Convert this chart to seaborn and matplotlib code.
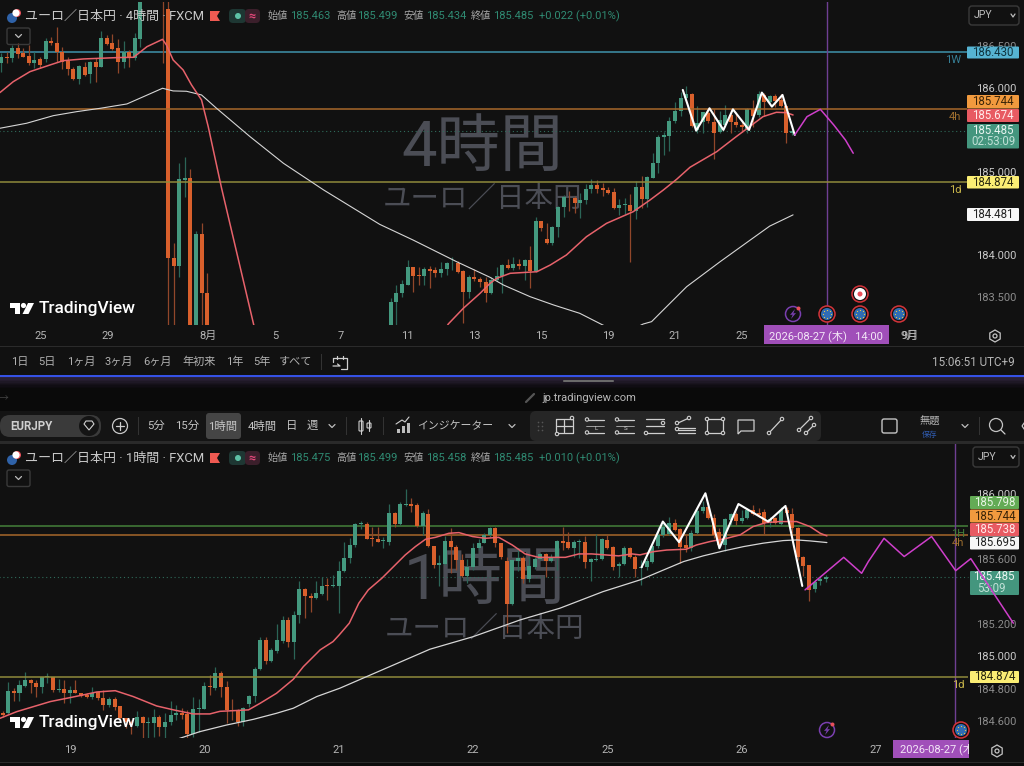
import numpy as np
import pandas as pd
import seaborn as sns
import matplotlib.pyplot as plt
from matplotlib.patches import Rectangle, Circle, Polygon, FancyBboxPatch

# 上段チャート (4時間足) のデータ
top_bars = [*range(26), *range(29, 38), *range(70, 143)]
top_open = [186.296, 186.368, 186.356, 186.475, 186.416, 186.384, 186.296, 186.344, 186.344, 186.567,
            186.535, 186.436, 186.328, 186.228, 186.104, 186.252, 186.168, 186.308, 186.256, 186.603,
            186.535, 186.475, 186.316, 186.436, 186.356, 186.583,
            187.2, 186.942, 183.96, 183.87, 184.897, 184.92, 183.0, 184.247, 183.55,
            183.1, 183.441, 183.541, 183.641, 183.852, 183.760, 183.749, 183.836, 183.820, 183.788,
            183.828, 183.900, 183.900, 183.812, 183.561, 183.741, 183.709, 183.677, 183.541, 183.701,
            183.749, 183.880, 183.844, 183.892, 183.868, 183.940, 183.804, 184.407, 184.191, 184.140,
            184.339, 184.571, 184.699, 184.679, 184.619, 184.659, 184.794, 184.842, 184.798, 184.778,
            184.751, 184.563, 184.599, 184.599, 184.531, 184.818, 184.667, 184.927, 185.106, 185.414,
            185.430, 185.605, 185.725, 185.877, 185.929, 185.50, 185.597, 185.705, 185.598, 185.470,
            185.557, 185.677, 185.597, 185.557, 185.497, 185.745, 185.677, 185.916, 185.836, 185.904,
            185.857, 185.785, 185.463]
top_close = [186.368, 186.360, 186.483, 186.408, 186.376, 186.296, 186.336, 186.276, 186.567, 186.535,
             186.436, 186.316, 186.228, 186.108, 186.264, 186.156, 186.308, 186.256, 186.603, 186.527,
             186.468, 186.316, 186.436, 186.356, 186.595, 187.034,
             187.03, 183.96, 183.87, 184.905, 184.921, 183.0, 184.247, 183.54, 182.9,
             183.441, 183.541, 183.653, 183.852, 183.752, 183.752, 183.836, 183.812, 183.788, 183.828,
             183.900, 183.908, 183.800, 183.561, 183.741, 183.709, 183.677, 183.549, 183.701, 183.749,
             183.880, 183.844, 183.892, 183.868, 183.940, 183.804, 184.407, 184.319, 184.140, 184.339,
             184.571, 184.691, 184.691, 184.619, 184.659, 184.794, 184.842, 184.794, 184.778, 184.739,
             184.559, 184.599, 184.611, 184.523, 184.818, 184.667, 184.930, 185.106, 185.418, 185.438,
             185.605, 185.725, 185.877, 185.928, 185.546, 185.58, 185.709, 185.610, 185.458, 185.62,
             185.677, 185.597, 185.557, 185.529, 185.745, 185.665, 185.928, 185.836, 185.904, 185.849,
             185.785, 185.466, 185.485]
top_high = [186.416, 186.436, 186.515, 186.535, 186.475, 186.515, 186.436, 186.368, 186.595, 186.615,
            186.735, 186.495, 186.376, 186.256, 186.276, 186.316, 186.328, 186.356, 186.683, 186.635,
            186.643, 186.583, 186.567, 186.456, 186.663, 187.2,
            187.3, 187.1, 184.14, 185.10, 185.17, 185.03, 184.29, 184.38, 183.78,
            183.481, 183.641, 183.701, 183.940, 183.860, 183.852, 183.852, 183.868, 183.860, 183.920,
            183.920, 183.972, 183.932, 183.820, 183.761, 183.828, 183.733, 183.741, 183.733, 183.852,
            183.892, 183.948, 183.972, 183.948, 183.948, 184.108, 184.451, 184.411, 184.379, 184.347,
            184.587, 184.719, 184.771, 184.707, 184.739, 184.850, 184.906, 184.898, 184.866, 184.818,
            184.798, 184.667, 184.679, 184.731, 184.890, 184.946, 184.946, 185.218, 185.438, 185.478,
            185.657, 185.837, 185.956, 186.024, 185.937, 185.785, 185.717, 185.737, 185.745, 185.72,
            185.797, 185.745, 185.717, 185.597, 185.757, 185.857, 185.968, 185.936, 185.916, 185.924,
            185.928, 185.797, 185.499]
top_low = [186.196, 186.296, 186.316, 186.356, 186.368, 186.276, 186.236, 186.236, 186.316, 186.515,
           186.316, 186.228, 186.156, 186.096, 186.044, 186.144, 186.056, 186.076, 186.248, 186.515,
           186.456, 186.184, 186.236, 186.256, 186.336, 186.495,
           186.296, 182.9, 182.9, 183.74, 184.70, 182.9, 182.9, 182.9, 182.8,
           183.0, 183.0, 183.493, 183.641, 183.561, 183.641, 183.641, 183.601, 183.733, 183.733,
           183.761, 183.820, 183.780, 183.18, 183.481, 183.693, 183.621, 183.441, 183.533, 183.693,
           183.549, 183.836, 183.820, 183.828, 183.701, 183.601, 183.796, 184.283, 184.132, 184.120,
           184.211, 184.459, 184.531, 184.507, 184.443, 184.611, 184.739, 184.747, 184.707, 184.731,
           184.547, 184.479, 184.491, 183.921, 184.435, 184.559, 184.579, 184.919, 184.979, 185.198,
           185.250, 185.585, 185.665, 185.857, 185.538, 185.458, 185.458, 185.586, 185.15, 185.458,
           185.537, 185.466, 185.537, 185.478, 185.458, 185.537, 185.657, 185.665, 185.817, 185.777,
           185.769, 185.346, 185.434]

top_red_x = [-0.2, 2.2, 5.2, 8.8, 11.2, 14.8, 17.8, 20.8, 23.8, 26.2, 29, 29.7, 30.9, 32.7, 34.2, 36, 37.2,
             39.6, 45.6, 60, 78, 80.3, 83, 86, 87.8, 89, 91.4, 96.2, 98.6, 101.5, 105.1, 108.7, 113.5, 116.5,
             118.9, 121.3, 123.7, 128.5, 132, 134.4, 136.8, 139.2, 141, 142.2]
top_red_y = [185.945, 186.076, 186.196, 186.276, 186.328, 186.348, 186.356, 186.364, 186.368, 186.495, 186.583,
             186.515, 186.336, 186.216, 186.037, 185.857, 185.538, 184.800, 183.1, 181.5, 182.9, 183.174, 183.362,
             183.541, 183.661, 183.721, 183.781, 183.800, 183.880, 184.000, 184.219, 184.379, 184.519, 184.658,
             184.778, 184.907, 185.051, 185.238, 185.418, 185.537, 185.657, 185.709, 185.705, 185.677]
top_white_x = [-0.2, 4.6, 9.4, 13.6, 17.8, 22.6, 25.6, 29, 30.9, 33.3, 36, 38.7, 44.7, 50.7, 57.9, 68, 74, 81.8,
               87.8, 90.2, 95, 99.2, 103.9, 107.8, 111.5, 115.3, 116.8, 118.9, 123.1, 129.1, 134.5, 138, 142.2]
top_white_y = [185.518, 185.578, 185.669, 185.717, 185.757, 185.809, 185.897, 185.997, 185.965, 185.961, 185.917,
               185.757, 185.418, 185.099, 184.780, 184.367, 184.179, 183.920, 183.733, 183.641, 183.501, 183.402,
               183.302, 183.170, 183.05, 183.174, 183.202, 183.342, 183.621, 183.920, 184.179, 184.346, 184.481]
top_zigzag_x = [122.4, 124.8, 127.2, 129.7, 131.4, 134.3, 136.6, 138.4, 140.3, 142.5]
top_zigzag_y = [185.977, 185.490, 185.757, 185.498, 185.745, 185.498, 185.945, 185.777, 185.917, 185.438]
top_plan_x = [142.5, 144.7, 147.1, 149.5, 151.6, 153]
top_plan_y = [185.438, 185.657, 185.745, 185.558, 185.378, 185.219]
top_cursor = 148.3
top_date_pos = [7.2, 19.2, 37.2, 49.2, 61, 73, 85, 97, 109, 121, 133, 163]
top_date_labels = ['25', '29', '8月', '5', '7', '11', '13', '15', '19', '21', '25', '9月']
top_price_ticks = [186.5, 186.0, 185.0, 184.0, 183.5]
top_bright_ticks = [186.0, 185.0, 184.0]

# 下段チャート (1時間足) のデータ
low_open = [184.649, 184.649, 184.788, 184.772, 184.819, 184.856, 184.834, 184.809, 184.870, 184.872,
            184.790, 184.797, 184.776, 184.792, 184.776, 184.762, 184.747, 184.780, 184.741, 184.700,
            184.737, 184.694, 184.618, 184.598, 184.571, 184.629, 184.592, 184.588, 184.629, 184.567,
            184.594, 184.641, 184.653, 184.645, 184.520, 184.678, 184.678, 184.817, 184.803, 184.899,
            184.813, 184.670, 184.665, 184.598, 184.706, 184.756, 184.920, 185.100, 184.973, 185.034,
            185.096, 185.223, 185.088, 185.254, 185.414, 185.371, 185.358, 185.383, 185.436, 185.430,
            185.432, 185.522, 185.602, 185.684, 185.813, 185.813, 185.727, 185.723, 185.709, 185.705,
            185.881, 185.813, 185.930, 185.936, 185.928, 185.801, 185.875, 185.678, 185.559, 185.567,
            185.711, 185.674, 185.592, 185.496, 185.547, 185.664, 185.699, 185.744, 185.787, 185.695,
            185.588, 185.321, 185.588, 185.602, 185.473, 185.547, 185.598, 185.629, 185.588, 185.608,
            185.711, 185.703, 185.666, 185.701, 185.705, 185.580, 185.592, 185.600, 185.715, 185.674,
            185.555, 185.567, 185.668, 185.608, 185.543, 185.547, 185.582, 185.678, 185.746, 185.752,
            185.822, 185.781, 185.682, 185.668, 185.756, 185.891, 185.916, 185.850, 185.762, 185.684,
            185.838, 185.873, 185.834, 185.848, 185.900, 185.879, 185.885, 185.822, 185.848, 185.813,
            185.900, 185.873, 185.787, 185.613, 185.559, 185.416, 185.463, 185.475]
low_close = [184.637, 184.788, 184.772, 184.823, 184.854, 184.834, 184.809, 184.870, 184.874, 184.792,
             184.797, 184.776, 184.792, 184.776, 184.756, 184.747, 184.776, 184.741, 184.700, 184.737,
             184.690, 184.618, 184.598, 184.577, 184.624, 184.588, 184.598, 184.629, 184.567, 184.596,
             184.641, 184.649, 184.639, 184.520, 184.678, 184.682, 184.817, 184.809, 184.899, 184.809,
             184.670, 184.665, 184.598, 184.684, 184.756, 184.924, 185.100, 184.973, 185.036, 185.100,
             185.223, 185.090, 185.254, 185.414, 185.371, 185.358, 185.387, 185.432, 185.430, 185.436,
             185.524, 185.602, 185.686, 185.813, 185.818, 185.723, 185.723, 185.705, 185.713, 185.881,
             185.813, 185.934, 185.936, 185.926, 185.801, 185.879, 185.678, 185.559, 185.571, 185.711,
             185.674, 185.592, 185.496, 185.551, 185.664, 185.699, 185.744, 185.787, 185.695, 185.608,
             185.321, 185.592, 185.604, 185.473, 185.555, 185.600, 185.629, 185.588, 185.613, 185.711,
             185.699, 185.666, 185.701, 185.705, 185.580, 185.600, 185.600, 185.719, 185.664, 185.551,
             185.567, 185.668, 185.608, 185.539, 185.549, 185.588, 185.678, 185.748, 185.797, 185.822,
             185.777, 185.674, 185.664, 185.756, 185.895, 185.916, 185.850, 185.746, 185.684, 185.842,
             185.873, 185.834, 185.852, 185.900, 185.875, 185.869, 185.822, 185.842, 185.822, 185.900,
             185.879, 185.787, 185.613, 185.555, 185.408, 185.457, 185.473, 185.485]
low_high = [184.665, 184.844, 184.803, 184.854, 184.905, 184.858, 184.854, 184.874, 184.895, 184.874,
            184.860, 184.854, 184.817, 184.854, 184.776, 184.772, 184.813, 184.788, 184.792, 184.752,
            184.747, 184.694, 184.618, 184.608, 184.665, 184.633, 184.624, 184.674, 184.641, 184.649,
            184.727, 184.700, 184.680, 184.670, 184.747, 184.739, 184.844, 184.885, 184.936, 184.911,
            184.850, 184.735, 184.674, 184.690, 184.762, 184.936, 185.116, 185.120, 185.049, 185.198,
            185.248, 185.244, 185.280, 185.465, 185.418, 185.391, 185.465, 185.485, 185.479, 185.500,
            185.586, 185.701, 185.725, 185.822, 185.834, 185.828, 185.797, 185.797, 185.736, 185.936,
            185.889, 185.951, 186.027, 185.971, 185.940, 185.895, 185.904, 185.678, 185.623, 185.740,
            185.787, 185.684, 185.629, 185.596, 185.699, 185.719, 185.756, 185.797, 185.793, 185.699,
            185.608, 185.596, 185.664, 185.617, 185.613, 185.608, 185.637, 185.637, 185.629, 185.715,
            185.797, 185.766, 185.715, 185.719, 185.740, 185.602, 185.752, 185.727, 185.746, 185.678,
            185.582, 185.678, 185.674, 185.623, 185.592, 185.602, 185.695, 185.797, 185.828, 185.854,
            185.842, 185.787, 185.746, 185.777, 185.910, 185.957, 185.951, 185.875, 185.787, 185.848,
            185.883, 185.889, 185.900, 185.910, 185.930, 185.910, 185.904, 185.859, 185.859, 185.920,
            185.920, 185.910, 185.797, 185.617, 185.561, 185.469, 185.489, 185.499]
low_low = [184.624, 184.643, 184.727, 184.725, 184.813, 184.776, 184.747, 184.772, 184.838, 184.782,
           184.778, 184.715, 184.711, 184.772, 184.747, 184.741, 184.739, 184.731, 184.670, 184.686,
           184.670, 184.612, 184.557, 184.522, 184.567, 184.485, 184.489, 184.501, 184.510, 184.489,
           184.577, 184.608, 184.612, 184.489, 184.506, 184.536, 184.674, 184.762, 184.792, 184.752,
           184.592, 184.608, 184.571, 184.571, 184.690, 184.721, 184.916, 184.952, 184.965, 185.022,
           185.084, 185.055, 184.985, 185.203, 185.233, 185.274, 185.354, 185.377, 185.346, 185.424,
           185.264, 185.520, 185.576, 185.674, 185.781, 185.719, 185.678, 185.703, 185.668, 185.684,
           185.797, 185.807, 185.924, 185.889, 185.797, 185.746, 185.674, 185.541, 185.432, 185.559,
           185.510, 185.530, 185.490, 185.449, 185.530, 185.653, 185.695, 185.736, 185.674, 185.596,
           185.145, 185.315, 185.526, 185.453, 185.459, 185.535, 185.592, 185.490, 185.582, 185.530,
           185.653, 185.658, 185.613, 185.604, 185.541, 185.461, 185.588, 185.592, 185.658, 185.530,
           185.485, 185.561, 185.602, 185.490, 185.438, 185.530, 185.571, 185.664, 185.736, 185.746,
           185.772, 185.576, 185.643, 185.649, 185.752, 185.879, 185.842, 185.725, 185.664, 185.649,
           185.807, 185.807, 185.822, 185.842, 185.867, 185.859, 185.752, 185.797, 185.813, 185.807,
           185.869, 185.760, 185.592, 185.494, 185.342, 185.397, 185.438, 185.458]

low_red_x = [-0.5, 2.5, 5.5, 8.5, 11.4, 14.4, 16.8, 20.1, 23.3, 27.5, 30.5, 34, 37, 38.8, 41.2, 43.9, 46, 48.9, 51.9,
             53.7, 56.7, 59, 60.1, 61.9, 63.6, 65.3, 67.7, 69.8, 71.9, 73.7, 75.5, 77.3, 79.7, 81.5, 83.9, 86.2, 88.6,
             91, 93.3, 95.7, 98.1, 100.5, 102.9, 105.2, 107.6, 110, 112.4, 113.8, 116.2, 118.6, 122.1, 123.9, 126.3,
             129.3, 131.7, 134, 136.4, 138.8, 141.8, 144.2, 146, 147.2]
low_red_y = [184.618, 184.659, 184.690, 184.721, 184.741, 184.762, 184.780, 184.788, 184.752, 184.694, 184.670, 184.645,
             184.645, 184.661, 184.665, 184.670, 184.711, 184.772, 184.858, 184.936, 185.039, 185.090, 185.131, 185.203,
             185.326, 185.408, 185.479, 185.551, 185.623, 185.674, 185.719, 185.731, 185.756, 185.760, 185.736, 185.725,
             185.731, 185.684, 185.629, 185.608, 185.608, 185.608, 185.629, 185.629, 185.623, 185.617, 185.629, 185.623,
             185.643, 185.653, 185.658, 185.684, 185.705, 185.725, 185.746, 185.797, 185.822, 185.828, 185.828, 185.797,
             185.756, 185.740]
low_white_x = [31.1, 35.2, 40, 44.8, 48.9, 51.9, 56.1, 60.2, 76.3, 84, 92.4, 99.5, 107.2, 113.8, 118, 121.6, 125.1,
               128.7, 132.3, 135.8, 139.4, 141.8, 144.2, 147.2]
low_white_y = [184.489, 184.536, 184.577, 184.612, 184.649, 184.680, 184.752, 184.803, 185.043, 185.120, 185.223,
               185.295, 185.397, 185.469, 185.530, 185.582, 185.617, 185.647, 185.674, 185.695, 185.711, 185.715,
               185.709, 185.699]
low_zigzag_x = [114.1, 117.9, 120.8, 125.5, 128, 131.4, 136.7, 139.8, 142.8]
low_zigzag_y = [185.547, 185.828, 185.701, 186.002, 185.664, 185.936, 185.828, 185.924, 185.432]
low_plan_x = [143.3, 150.2, 153.4, 154.6, 157.4, 161, 165.9, 170.2, 172.9, 180.5]
low_plan_y = [185.408, 185.608, 185.510, 185.582, 185.725, 185.613, 185.736, 185.526, 185.600, 185.203]
low_cursor = 170
low_date_pos = [12, 36, 60, 84, 108, 132, 156]
low_date_labels = ['19', '20', '21', '22', '25', '26', '27']
low_price_ticks = [186.0, 185.6, 185.2, 185.0, 184.8, 184.6]
low_bright_ticks = [186.0, 185.0]

# 色
BG = '#111111'
UP = '#44997f'
DOWN = '#d9602c'
UP_WICK = '#2b6557'
DOWN_WICK = '#91472a'
RED_MA = '#e7626b'
WHITE_MA = '#d6d6d6'
PLAN = '#cf3fcb'
CURSOR = '#6f3f93'
LINE_1W = '#3f93ac'
LINE_1H = '#44803a'
LINE_4H = '#a8682a'
LINE_1D = '#8f8a3b'
WATERMARK = '#4b4d55'
GREY = '#b5b5b5'

sns.set_theme(style='dark', rc={'axes.facecolor': BG, 'figure.facecolor': BG})
plt.rcParams['font.family'] = ['Roboto', 'Noto Sans CJK JP', 'DejaVu Sans']

fig = plt.figure(figsize=(10.24, 7.66), dpi=100, facecolor=BG)


def px_axes(left, top, right, bottom, z):
    ax = fig.add_axes([left / 1024, 1 - bottom / 766, (right - left) / 1024, (bottom - top) / 766], zorder=z)
    ax.patch.set_visible(False)
    return ax


# ピクセル座標の層 (背景と UI 部品)
ax_bg = px_axes(0, 0, 1024, 766, 0)
ax_ui = px_axes(0, 0, 1024, 766, 3)
for a in (ax_bg, ax_ui):
    a.set_xlim(0, 1024)
    a.set_ylim(766, 0)
    a.axis('off')

ax_top = px_axes(0, 2, 1024, 325, 1)
ax_low = px_axes(0, 444, 1024, 738, 2)
ax_top.set_xlim(-0.18, 183.66)
ax_top.set_ylim(183.162, 187.03)
ax_low.set_xlim(-0.48, 182.4)
ax_low.set_ylim(184.497, 186.305)


def draw_chart(ax, bars, opens, highs, lows, closes):
    df = pd.DataFrame({'bar': bars, 'open': opens, 'high': highs, 'low': lows, 'close': closes})
    df['up'] = df['close'] >= df['open']
    ax.vlines(df['bar'], df['low'], df['high'], colors=np.where(df['up'], UP_WICK, DOWN_WICK), lw=0.9, zorder=2)
    ax.bar(df['bar'], (df['close'] - df['open']).abs().clip(lower=0.006), bottom=df[['open', 'close']].min(axis=1),
           width=0.72, color=np.where(df['up'], UP, DOWN), lw=0, zorder=3)


def draw_line(ax, xs, ys, color, lw, z):
    sns.lineplot(x=xs, y=ys, ax=ax, color=color, lw=lw, estimator=None, sort=False, zorder=z,
                 solid_joinstyle='round')


def style_axis(ax, date_pos, date_labels, price_ticks, bright, date_pad):
    ax.set_xlabel('')
    ax.set_ylabel('')
    ax.grid(False)
    for s in ax.spines.values():
        s.set_visible(False)
    ax.set_xticks(date_pos, date_labels)
    ax.tick_params(axis='x', length=0, pad=date_pad, labelsize=8, labelcolor=GREY)
    ax.yaxis.tick_right()
    ax.set_yticks(price_ticks, [f'{p:.3f}' for p in price_ticks])
    ax.tick_params(axis='y', length=0, pad=-34.5, labelsize=8, labelcolor='#8b8b8b')
    for p, lab in zip(price_ticks, ax.get_yticklabels()):
        if p in bright:
            lab.set_color('#c9c9c9')


def px_text(ax, x, y, s, size=8, color=GREY, ha='center', z=7, **kw):
    return ax.text(x, y, s, fontsize=size, color=color, ha=ha, va='center', zorder=z,
                   transform=ax_ui.transData, clip_on=False, **kw)


def price_tag(ax, top, bottom, left, right, fc, label, tc, sub=None):
    ax.add_patch(FancyBboxPatch((left + 1, top + 1), right - left - 2, bottom - top - 2, boxstyle='round,pad=1',
                                fc=fc, ec='none', transform=ax_ui.transData, clip_on=False, zorder=6))
    if sub:
        px_text(ax, (left + right) / 2, top + 6.5, label, size=8.3, color=tc)
        px_text(ax, (left + right) / 2, bottom - 7, sub, size=8.3, color='#bfe0d6')
    else:
        px_text(ax, (left + right) / 2, (top + bottom) / 2, label, size=8.3, color=tc)


# ---- 上段 ----
ax_top.text(0.4708, 0.545, '4時間', transform=ax_top.transAxes, fontsize=45.5, color=WATERMARK, ha='center', va='center',
            zorder=1)
ax_top.text(0.4708, 0.39, 'ユーロ／日本円', transform=ax_top.transAxes, fontsize=20.5, color=WATERMARK, ha='center',
            va='center', zorder=1)
ax_top.hlines([186.430], -1, 173.5, color=LINE_1W, lw=1.1, zorder=1.5)
ax_top.hlines([185.744], -1, 173.5, color=LINE_4H, lw=1.1, zorder=4)
ax_top.hlines([184.874], -1, 173.5, color=LINE_1D, lw=1.1, zorder=4)
ax_top.hlines([185.485], -1, 173.5, color='#2f6b5a', lw=0.8, linestyles=(0, (1, 2.5)), zorder=1.5)
ax_top.vlines([top_cursor], 183.0, 187.1, color=CURSOR, lw=1, zorder=1.6)
draw_chart(ax_top, top_bars, top_open, top_high, top_low, top_close)
draw_line(ax_top, top_white_x, top_white_y, WHITE_MA, 0.8, 4)
draw_line(ax_top, top_red_x, top_red_y, RED_MA, 1.1, 4.2)
draw_line(ax_top, top_zigzag_x, top_zigzag_y, 'white', 1.5, 5)
draw_line(ax_top, top_plan_x, top_plan_y, PLAN, 1.1, 5)
style_axis(ax_top, top_date_pos, top_date_labels, top_price_ticks, top_bright_ticks, 4.5)

price_tag(ax_top, 46.5, 58.5, 967, 1019, '#56b4d3', '186.430', '#10343f')
price_tag(ax_top, 95, 108.5, 967, 1019, '#f19a3e', '185.744', '#3a2408')
price_tag(ax_top, 109, 122, 967, 1019, '#e85a62', '185.674', '#ffe9e9')
price_tag(ax_top, 124, 148.5, 967, 1019, '#44967e', '185.485', '#e9f5f1', sub='02:53:09')
price_tag(ax_top, 176, 188.5, 967, 1019, '#fbee74', '184.874', '#2b2a10')
price_tag(ax_top, 208, 221, 967, 1019, '#f7f7f7', '184.481', '#222222')
px_text(ax_top, 953, 60, '1W', color='#367f96')
px_text(ax_top, 955, 117, '4h', color='#a0702f')
px_text(ax_top, 955, 190, '1d', color='#c9b64a')

# ---- 下段 ----
ax_low.text(0.4736, 0.531, '1時間', transform=ax_low.transAxes, fontsize=45.5, color=WATERMARK, ha='center', va='center',
            zorder=1)
ax_low.text(0.4736, 0.371, 'ユーロ／日本円', transform=ax_low.transAxes, fontsize=20.5, color=WATERMARK, ha='center',
            va='center', zorder=1)
ax_low.hlines([185.798], -1, 172.4, color=LINE_1H, lw=1.1, zorder=1.5)
ax_low.hlines([185.744], -1, 172.4, color=LINE_4H, lw=1.1, zorder=1.5)
ax_low.hlines([184.874], -1, 172.4, color=LINE_1D, lw=1.1, zorder=4)
ax_low.hlines([185.485], -1, 172.4, color='#2f6b5a', lw=0.8, linestyles=(0, (1, 2.5)), zorder=1.5)
ax_low.vlines([low_cursor], 184.4, 186.4, color=CURSOR, lw=1, zorder=1.6)
draw_chart(ax_low, list(range(148)), low_open, low_high, low_low, low_close)
draw_line(ax_low, low_white_x, low_white_y, WHITE_MA, 0.9, 4)
draw_line(ax_low, low_red_x, low_red_y, RED_MA, 1.1, 4.2)
draw_line(ax_low, low_zigzag_x, low_zigzag_y, 'white', 1.5, 5)
draw_line(ax_low, low_plan_x, low_plan_y, PLAN, 1.1, 8)
style_axis(ax_low, low_date_pos, low_date_labels, low_price_ticks, low_bright_ticks, 5)

price_tag(ax_low, 496, 509, 970, 1019, '#63ab55', '185.798', '#e8f5e4')
price_tag(ax_low, 509.5, 522.5, 970, 1019, '#f19a3e', '185.744', '#3a2408')
price_tag(ax_low, 523, 536, 970, 1019, '#e85a62', '185.738', '#ffe9e9')
price_tag(ax_low, 536.5, 549.5, 970, 1019, '#f7f7f7', '185.695', '#222222')
ax_low.add_patch(FancyBboxPatch((971, 572), 47, 22, boxstyle='round,pad=1', fc='#44967e', ec='none',
                                transform=ax_ui.transData, clip_on=False, zorder=6))
px_text(ax_low, 994, 577, '185.485', size=8.3, color='#e9f5f1')
px_text(ax_low, 977, 589, '53:09', size=8.3, color='#bfe0d6', ha='left')
price_tag(ax_low, 671, 683, 970, 1019, '#fbee74', '184.874', '#2b2a10')
px_text(ax_low, 958, 534, '1H', color='#44803a')
px_text(ax_low, 958, 543, '4h', color='#a0702f')
px_text(ax_low, 958, 685, '1d', color='#c9b64a')


# ---- UI 部品 ----
def rect(ax, x0, y0, x1, y1, fc, z=1, **kw):
    ax.add_patch(Rectangle((x0, y0), x1 - x0, y1 - y0, fc=fc, ec='none', zorder=z, **kw))


def rbox(ax, x0, y0, x1, y1, fc='none', ec='none', r=3, lw=1, z=2, tr=None):
    ax.add_patch(FancyBboxPatch((x0 + r, y0 + r), x1 - x0 - 2 * r, y1 - y0 - 2 * r, boxstyle=f'round,pad={r}',
                                fc=fc, ec=ec, lw=lw, zorder=z, mutation_aspect=1,
                                transform=(tr or ax.transData), clip_on=False))


def seg(pts, color='#cfcfcf', lw=0.9, z=6):
    ax_ui.plot([p[0] for p in pts], [p[1] for p in pts], color=color, lw=lw, zorder=z, solid_capstyle='round')


def node(x, y, r=1.7, color='#cfcfcf', fc='#2a2a2a'):
    ax_ui.add_patch(Circle((x, y), r, fc=fc, ec=color, lw=0.8, zorder=7))


def chevron(x, y, color='#bdbdbd', s=3):
    seg([(x - s, y - 1.5), (x, y + 1.5), (x + s, y - 1.5)], color=color, lw=0.9)


def eu_flag(x, y):
    ax_ui.add_patch(Circle((x, y), 8, fc=BG, ec='#d4343a', lw=1.1, zorder=6))
    ax_ui.add_patch(Circle((x, y), 6, fc='#2f6cb4', ec='none', zorder=7))
    a = np.linspace(0, 2 * np.pi, 9)[:-1]
    ax_ui.scatter(x + 3.6 * np.cos(a), y + 3.6 * np.sin(a), s=0.8, color='#e7c94b', zorder=8, linewidths=0)


def lightning(x, y):
    ax_ui.add_patch(Circle((x, y), 7.5, fc='none', ec='#7a3fb0', lw=1.1, zorder=6))
    ax_ui.add_patch(Polygon([(x + 2, y - 5), (x - 3, y + 1), (x - 0.3, y + 0.6), (x - 2, y + 5), (x + 3, y - 1),
                             (x + 0.3, y - 0.6)], fc='#7a3fb0', ec='none', zorder=7))
    ax_ui.add_patch(Circle((x + 5.5, y - 5.5), 2, fc='#e8505a', ec='none', zorder=8))


def gear(x, y):
    a = np.pi / 6 + np.arange(6) * np.pi / 3
    ax_ui.add_patch(Polygon(np.c_[x + 6 * np.cos(a), y + 6 * np.sin(a)], fc='none', ec='#c4c4c4', lw=0.9, zorder=6))
    ax_ui.add_patch(Circle((x, y), 2, fc='none', ec='#c4c4c4', lw=0.9, zorder=6))


def tv_logo(ax, x, y):
    t = ax_ui.transData
    ax.add_patch(Polygon([(x, y), (x + 10, y), (x + 10, y + 11), (x + 5, y + 11), (x + 5, y + 5), (x, y + 5)],
                         fc='white', ec='none', transform=t, zorder=7, clip_on=False))
    ax.add_patch(Circle((x + 13.5, y + 2.5), 2.6, fc='white', ec='none', transform=t, zorder=7, clip_on=False))
    ax.add_patch(Polygon([(x + 18, y), (x + 24, y), (x + 18.5, y + 11), (x + 12.5, y + 11)], fc='white', ec='none',
                         transform=t, zorder=7, clip_on=False))
    px_text(ax, x + 29, y + 5.5, 'TradingView', size=12.4, color='white', ha='left', weight='medium')


def header(y, tf, o, h, l, c, chg):
    px_text(ax_ui, 25, y, f'ユーロ／日本円 · {tf} · FXCM', size=9.4, color='#c8c8c8', ha='left')
    ax_ui.add_patch(Circle((12, y + 2), 5, fc='#2f62a8', ec='none', zorder=6))
    ax_ui.add_patch(Circle((17, y - 3), 4, fc='#e8505a', ec='none', zorder=6))
    ax_ui.add_patch(Circle((16, y - 3), 3.6, fc='white', ec='none', zorder=6))
    ax_ui.add_patch(Polygon([(210, y - 5), (220, y - 5), (217, y), (220, y + 5), (210, y + 5)], fc='#ef5a52', ec='none', zorder=6))
    rbox(ax_ui, 229, y - 7, 246, y + 7, fc='#1e3733', r=4, z=5)
    rbox(ax_ui, 245, y - 7, 260, y + 7, fc='#3b1f2b', r=4, z=5)
    ax_ui.add_patch(Circle((238, y), 3, fc='#5dc2a6', ec='none', zorder=6))
    px_text(ax_ui, 252, y, '≈', size=9, color='#e2487a', weight='bold')
    green = '#2f8a72'
    for x, lab in zip((268, 336, 403, 471), ('始値', '高値', '安値', '終値')):
        px_text(ax_ui, x, y, lab, size=7.3, color='#a6a6a6', ha='left')
    for x, val in zip((290, 357, 426, 493), (o, h, l, c)):
        px_text(ax_ui, x, y, val, size=8, color=green, ha='left')
    px_text(ax_ui, 539, y, chg, size=8, color=green, ha='left')


def jpy_box(x0, y0, x1, y1):
    rbox(ax_ui, x0, y0, x1, y1, ec='#3a3a3a', r=3, z=6)
    px_text(ax_ui, x0 + 5, (y0 + y1) / 2, 'JPY', size=7.6, color='#bdbdbd', ha='left')
    chevron(x1 - 6, (y0 + y1) / 2, s=2)


# 帯と区切り
rect(ax_bg, 0, 346, 1024, 347, '#2b2b2b')
rect(ax_bg, 0, 377, 1024, 411, '#0a0a0a')
rect(ax_ui, 0, 375.3, 1024, 377.2, '#3552e6', z=5)
for k, col in enumerate(['#2c2340', '#282035', '#241c2d', '#1e1825', '#19141e', '#141018', '#100d13', '#0d0b0f']):
    rect(ax_bg, 0, 377 + k * 1.4, 1024, 378.4 + k * 1.4, col, z=2)
rect(ax_bg, 0, 411, 1024, 441, '#141414')
rect(ax_bg, 0, 441, 1024, 444, '#2a2a2a')
rect(ax_bg, 0, 762, 1024, 763, '#2b2b2b')
rect(ax_bg, 0, 763, 1024, 766, '#0c0c0c')

header(16, '4時間', '185.463', '185.499', '185.434', '185.485', '+0.022 (+0.01%)')
header(458, '1時間', '185.475', '185.499', '185.458', '185.485', '+0.010 (+0.01%)')
for y0 in (28, 470):
    rbox(ax_ui, 7, y0, 30, y0 + 16.5, ec='#3a3a3a', r=2, z=6)
    chevron(18.5, y0 + 8)
jpy_box(969, 6, 1019, 25)
jpy_box(973, 447, 1019, 467)
tv_logo(ax_ui, 10, 303)
tv_logo(ax_low, 10, 717)

# カーソルの日付ラベルとイベント
rect(ax_ui, 764, 325, 889, 344, '#a04fb9', z=5)
px_text(ax_ui, 826, 336, '2026-08-27 (木)   14:00', size=8, color='#f3e6f7')
px_text(ax_ui, 910, 336, '9月', size=8)
date_box = Rectangle((893, 740), 76, 18, fc='#a04fb9', ec='none', zorder=5)
ax_ui.add_patch(date_box)
t = ax_ui.text(900, 749.5, '2026-08-27 (木)   14:00', fontsize=8, color='#f3e6f7', ha='left', va='center', zorder=6,
               clip_on=True)
t.set_clip_path(date_box)
lightning(793, 314)
for x in (827, 860, 899):
    eu_flag(x, 314)
ax_ui.add_patch(Circle((860, 294), 8, fc=BG, ec='#d4343a', lw=1.1, zorder=6))
ax_ui.add_patch(Circle((860, 294), 6, fc='white', ec='none', zorder=7))
ax_ui.add_patch(Circle((860, 294), 2.5, fc='#e8505a', ec='none', zorder=8))
lightning(827, 730)
eu_flag(961, 730)
gear(995, 336)
gear(997, 751)

# 期間バー
for x, lab in zip((20, 47, 81, 119, 158, 199, 235, 262, 296),
                  ('1日', '5日', '1ヶ月', '3ヶ月', '6ヶ月', '年初来', '1年', '5年', 'すべて')):
    px_text(ax_ui, x, 362, lab, size=8, color='#b0b0b0')
rect(ax_ui, 321, 354, 322, 370, '#333333', z=5)
seg([(333, 358), (347, 358), (347, 369), (341, 369)], lw=0.9)
seg([(333, 358), (333, 362)], lw=0.9)
seg([(333, 366), (340, 366), (337.5, 364)], lw=0.9)
seg([(337, 355.5), (337, 359)], lw=0.9)
seg([(343, 355.5), (343, 359)], lw=0.9)
px_text(ax_ui, 1015, 362, '15:06:51 UTC+9', size=8.4, color='#b5b5b5', ha='right')

# ブラウザの URL 部分
rbox(ax_ui, 563, 380, 614, 382, fc='#6a6a6a', r=1, z=5)
px_text(ax_ui, 542, 398, 'jp.tradingview.com', size=8, color='#b8b8b8', ha='left')
seg([(526, 402), (534, 394)], color='#555555', lw=1.6)
px_text(ax_ui, 3, 398, '→', size=7, color='#444444')

# ツールバー
rbox(ax_ui, 0, 415, 101, 437, fc='#3a3a3a', r=10, z=2)
px_text(ax_ui, 10, 426, 'EURJPY', size=8.3, color='#cfcfcf', ha='left', weight='bold')
ax_ui.add_patch(Circle((89, 426), 10, fc='#141414', ec='none', zorder=4))
ax_ui.add_patch(Polygon([(84, 424), (86, 421), (92, 421), (94, 424), (89, 430)], fc='none', ec='#d0d0d0', lw=0.8, zorder=5))
ax_ui.add_patch(Circle((120, 426), 7.5, fc='none', ec='#c8c8c8', lw=0.9, zorder=5))
seg([(116, 426), (124, 426)])
seg([(120, 422), (120, 430)])
for x in (138, 346, 383, 979):
    rect(ax_ui, x, 417, x + 1, 435, '#333333', z=5)
rbox(ax_ui, 206, 413, 241, 439, fc='#454545', r=3, z=2)
for x, lab in zip((156, 187, 223, 262, 292, 312), ('5分', '15分', '1時間', '4時間', '日', '週')):
    px_text(ax_ui, x, 426, lab, size=8.2, color='#c4c4c4')
chevron(332, 426)
# ローソク足アイコン
for x, y0, y1, b0, b1 in ((361, 418, 434, 421, 431), (369, 420, 431, 423, 428)):
    seg([(x, y0), (x, y1)], lw=0.8)
    rbox(ax_ui, x - 2, b0, x + 2, b1, ec='#cfcfcf', r=0.8, z=6, lw=0.8)
# インジケーターアイコン
for x, h in ((397, 4), (402, 7), (407, 10)):
    rect(ax_ui, x, 433 - h, x + 3, 433, '#bdbdbd', z=5)
seg([(396, 424), (402, 420), (405, 422), (409, 417)], lw=0.8)
px_text(ax_ui, 455, 426, 'インジケーター', size=7.8, color='#c4c4c4')
chevron(512, 426)

# 描画ツールの浮動パネル
rbox(ax_ui, 530, 411, 821, 441, fc='#262626', r=6, z=3)
ax_ui.scatter([538, 542] * 3, [422, 422, 426, 426, 430, 430], s=1.4, color='#555555', zorder=6, linewidths=0)
seg([(556, 419), (573, 419), (573, 433), (556, 433), (556, 419)])
seg([(564, 420), (564, 432)])
seg([(557, 426), (572, 426)])
for p in ((572, 418), (557, 434)):
    node(*p)
for x, mark in ((595, 'L'), (625, 'S')):
    seg([(x - 7, 419.5), (x + 9, 419.5)])
    seg([(x - 7, 432.5), (x + 9, 432.5)])
    seg([(x - 9, 426), (x + 9, 426)], lw=0.5)
    node(x - 8, 419.5)
    node(x - 8, 432.5)
    px_text(ax_ui, x + 1, 428, mark, size=4.5, color='#cfcfcf')
for y in (419, 426, 433):
    seg([(646, y), (664, y)])
node(663, 423)
node(646, 433)
for y in (427.5, 430, 433):
    seg([(678, y), (695, y)])
seg([(678, 423), (689, 418)])
node(677, 423)
node(689, 418)
node(677, 429)
seg([(707, 419), (723, 419), (723, 433), (707, 433), (707, 419)])
for p in ((707, 419), (723, 419), (707, 433), (723, 433)):
    node(*p)
ax_ui.add_patch(Polygon([(738, 420), (754, 420), (754, 431), (741, 431), (738, 434)], fc='none', ec='#cfcfcf', lw=0.9, zorder=6))
seg([(769, 433), (782, 419)])
node(769, 433)
node(782, 419)
seg([(799, 430), (811, 418)])
seg([(806, 433), (814, 425)])
for p in ((799, 430), (811, 418), (806, 433), (814, 425)):
    node(*p)

# 右上のボタン
rbox(ax_ui, 882, 419, 897, 433, ec='#c4c4c4', r=2, z=5)
px_text(ax_ui, 930, 422, '無題', size=7.4, color='#b5b5b5')
px_text(ax_ui, 930, 434, '保存', size=5.6, color='#2f5bb0')
chevron(965, 426)
ax_ui.add_patch(Circle((996, 425), 6.5, fc='none', ec='#c4c4c4', lw=0.9, zorder=5))
seg([(1001, 430), (1005, 434)])
ax_ui.add_patch(Polygon([(1022, 426), (1027, 419), (1032, 426), (1027, 433)], fc='none', ec='#c4c4c4', lw=0.9, zorder=5))

fig.savefig('out.png', dpi=100, facecolor=BG)
